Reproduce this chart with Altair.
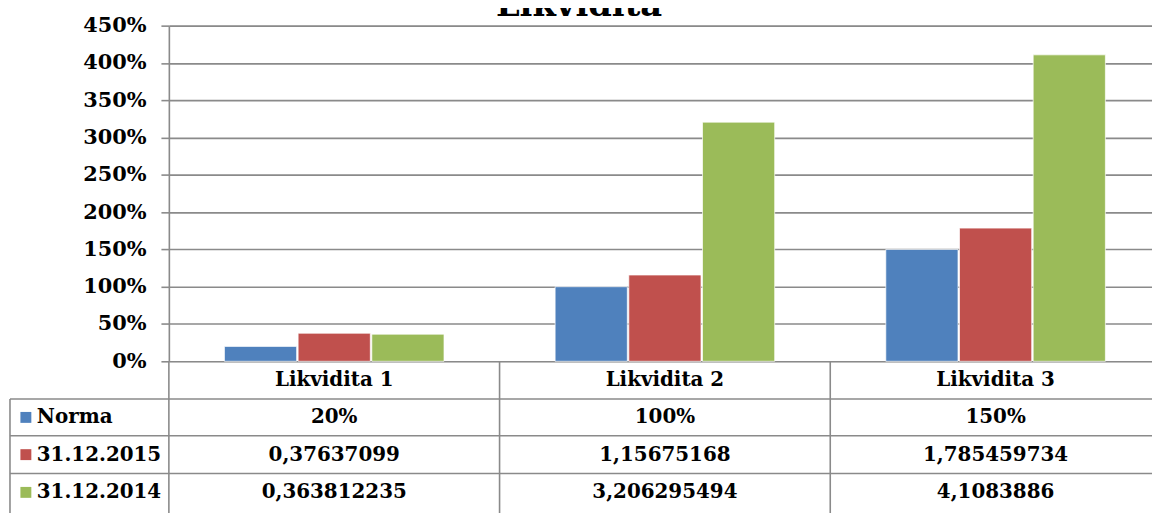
import altair as alt
import pandas as pd

# ---- data ----
categories = ["Likvidita 1", "Likvidita 2", "Likvidita 3"]
series = ["Norma", "31.12.2015", "31.12.2014"]
norma = [0.20, 1.00, 1.50]
v2015 = [0.37637099, 1.15675168, 1.785459734]
v2014 = [0.363812235, 3.206295494, 4.1083886]
y_ticks = [0, 0.5, 1.0, 1.5, 2.0, 2.5, 3.0, 3.5, 4.0, 4.5]
colors = ["#4F81BD", "#C0504D", "#9BBB59"]
title_text = "Likvidita"

rows = []
for s, vals in zip(series, [norma, v2015, v2014]):
    for c, v in zip(categories, vals):
        label = f"{v * 100:.0f}%" if s == "Norma" else str(v).replace(".", ",")
        rows.append({"category": c, "series": s, "value": v, "label": label})
df = pd.DataFrame(rows)

# ---- layout ----
W, H = 990, 338
PAD_L, PAD_T = 162, 16
TOTAL_W, TOTAL_H = 1152, 505
FONT = "DejaVu Serif"
LINE = "#8A8A8A"
LW = 1.6

row_edges = [H, 376, 413, 451, 510]          # table row boundaries (plot coords)
row_centers = [H + 19, 394.5, 432, 470]
band_range = 999
step = band_range / len(categories)
left_edge = -160

xscale = alt.Scale(domain=categories, range=[0, band_range],
                   paddingInner=0.336, paddingOuter=0.168)
cscale = alt.Scale(domain=series, range=colors)
X = alt.X("category:N", sort=categories, scale=xscale, axis=None)

bars = alt.Chart(df).mark_bar(stroke="white", strokeWidth=1, strokeOpacity=0.7).encode(
    x=X,
    xOffset=alt.XOffset("series:N", sort=series, scale=alt.Scale(paddingInner=0.02)),
    y=alt.Y(
        "value:Q",
        scale=alt.Scale(domain=[0, 4.5], nice=False),
        axis=alt.Axis(
            values=y_ticks, format=".0%", title=None, grid=True,
            gridColor=LINE, gridWidth=LW, domainColor=LINE, domainWidth=LW,
            tickColor=LINE, tickWidth=LW, tickSize=8, labelPadding=15,
            labelFont=FONT, labelFontSize=21, labelFontWeight="bold",
            labelColor="black",
        ),
    ),
    color=alt.Color("series:N", sort=series, scale=cscale, legend=None),
)

one = pd.DataFrame({"k": [0]})


def rule(x, x2, y, y2):
    return alt.Chart(one).mark_rule(color=LINE, strokeWidth=LW).encode(
        x=alt.value(x), x2=alt.value(x2), y=alt.value(y), y2=alt.value(y2)
    )


lines = [
    rule(0, 0, H, 510),
    rule(left_edge, left_edge, row_edges[1], 510),
    rule(step, step, H, 510),
    rule(2 * step, 2 * step, H, 510),
]
for e in row_edges[1:4]:
    lines.append(rule(left_edge, W, e, e))

text_kw = dict(font=FONT, fontSize=20, fontWeight="bold", color="black", baseline="middle")

header = alt.Chart(pd.DataFrame({"category": categories})).mark_text(**text_kw).encode(
    x=X, y=alt.value(row_centers[0]), text="category:N"
)

table_layers = []
for i, s in enumerate(series):
    sub = df[df["series"] == s]
    yc = row_centers[i + 1]
    table_layers.append(
        alt.Chart(sub).mark_text(**text_kw).encode(x=X, y=alt.value(yc), text="label:N")
    )
    key = pd.DataFrame({"series": [s]})
    table_layers.append(
        alt.Chart(key).mark_square(size=121, opacity=1).encode(
            x=alt.value(-144), y=alt.value(yc),
            color=alt.Color("series:N", sort=series, scale=cscale, legend=None),
        )
    )
    table_layers.append(
        alt.Chart(key).mark_text(align="left", **text_kw).encode(
            x=alt.value(-133), y=alt.value(yc), text="series:N"
        )
    )

title = alt.Chart(pd.DataFrame({"t": [title_text]})).mark_text(
    font=FONT, fontSize=34, fontWeight="bold", color="black", baseline="alphabetic"
).encode(x=alt.value(413), y=alt.value(-10), text="t:N")

chart = alt.layer(bars, *lines, header, *table_layers, title).properties(
    width=W, height=H,
    autosize=alt.AutoSizeParams(type="none"),
    padding={"left": PAD_L, "top": PAD_T, "right": TOTAL_W - PAD_L - W,
             "bottom": TOTAL_H - PAD_T - H},
).configure_view(stroke=None).configure(background="white")

chart.save("out.html", embed_options={"renderer": "svg", "actions": False})
